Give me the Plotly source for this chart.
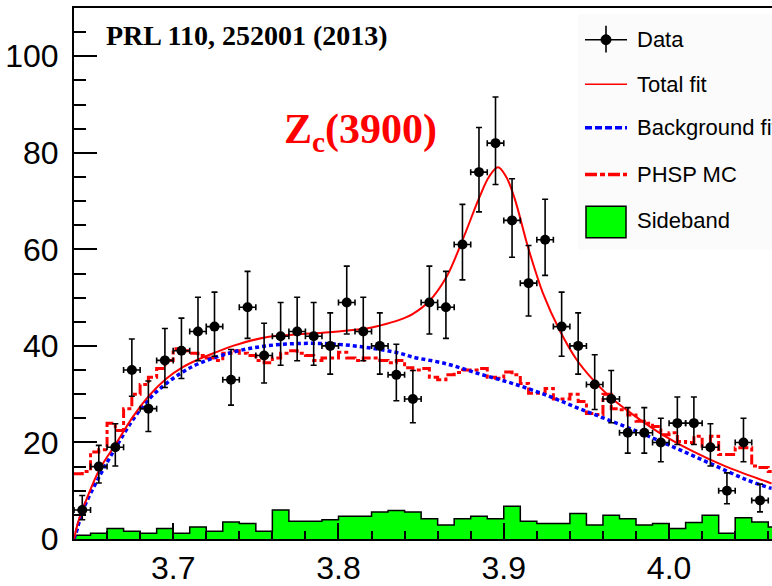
import numpy as np
import plotly.graph_objects as go

# ---- binning -------------------------------------------------------------
x_lo = 3.64            # GeV, first bin edge
data_bw = 0.01         # data / sideband bin width
mc_bw = 0.005          # phase-space MC bin width

# ---- data: events per 10 MeV ---------------------------------------------
counts = [6, 15, 19, 35, 27, 37, 39, 43, 44, 33, 48, 38, 42, 43, 42, 40, 49,
          43, 40, 34, 29, 49, 48, 61, 76, 82, 66, 53, 62, 44, 40, 32, 29, 22,
          22, 20, 24, 24, 19, 10, 20, 8]

# ---- sideband events per 10 MeV ------------------------------------------
sideband = [0.8, 1.2, 2.2, 1.6, 1.2, 2.2, 1.2, 2.5, 1.6, 3.5, 3.2, 1.6, 6.0,
            3.7, 3.7, 4.0, 4.7, 4.7, 5.6, 5.9, 5.6, 4.2, 2.9, 4.2, 4.7, 4.2,
            6.8, 3.7, 3.2, 3.2, 5.3, 2.9, 4.9, 4.2, 2.9, 3.2, 2.2, 3.4, 4.9,
            1.2, 4.4, 3.5, 2.5]

# ---- phase-space MC (normalised), 5 MeV bins -----------------------------
phsp = [13.5, 14, 18, 18.5, 24, 22.5, 27, 30, 32, 33.5, 35.3, 37, 39.4, 39,
        38.5, 38, 37.5, 37, 38.5, 39, 38.5, 38, 37, 36.5, 37.5, 38.5, 39,
        38.5, 38, 37, 37.5, 37.5, 38.7, 37.5, 37, 37.5, 37.5, 37, 36.5, 37,
        35.5, 35, 35.3, 33.5, 33, 34, 34.5, 35, 35, 35.3, 33.5, 33.3, 34.6,
        34, 32.2, 30.2, 30.2, 31.2, 29, 29, 30, 28.5, 26, 25.8, 30, 27, 26.8,
        25.7, 24.4, 24, 23.3, 21.6, 22, 20.2, 20, 21.3, 19.2, 21.3, 17.5,
        17.5, 18.9, 18.9, 15.1, 14.8, 14]

# ---- fit curves ----------------------------------------------------------
fit_x = [3.640, 3.6425, 3.6453, 3.6554, 3.6655, 3.6756, 3.6857, 3.6958,
         3.7058, 3.7159, 3.726, 3.7361, 3.7563, 3.7764, 3.7966, 3.8168,
         3.8248, 3.8369, 3.8448, 3.855, 3.8652, 3.8742, 3.8853, 3.891,
         3.8965, 3.9015, 3.9066, 3.9142, 3.9196, 3.9236, 3.9337, 3.9438,
         3.9539, 3.964, 3.974, 3.9942, 4.0142, 4.0345, 4.0588, 4.062]
fit_y = [0, 3.5, 6.2, 14.4, 19.8, 25.3, 29.8, 33.2, 35.6, 37.3, 38.7, 40.0,
         41.8, 42.4, 42.9, 43.6, 44.2, 45.4, 46.6, 49.3, 54.2, 61.2, 70.8,
         75.0, 77.0, 75.0, 70.5, 61.0, 55.0, 51.0, 43.3, 37.3, 33.0, 29.5,
         26.8, 22.0, 18.2, 15.0, 11.9, 11.5]

bkg_x = [3.640, 3.6413, 3.6454, 3.6554, 3.6655, 3.6756, 3.6857, 3.6958,
         3.7058, 3.7159, 3.7361, 3.7563, 3.7764, 3.7966, 3.8168, 3.8369,
         3.8448, 3.8652, 3.8853, 3.9055, 3.9257, 3.9458, 3.966, 3.9862,
         4.0063, 4.0265, 4.0467, 4.0608, 4.062]
bkg_y = [0, 1.3, 6.0, 13.0, 19.1, 24.7, 29.1, 32.2, 34.6, 36.4, 38.7, 40.0,
         40.5, 40.4, 39.7, 38.5, 37.7, 36.3, 34.2, 32.2, 29.8, 27.0, 24.3,
         21.5, 18.5, 15.4, 12.3, 10.6, 10.5]

# ---- derived arrays ------------------------------------------------------
n = np.array(counts, dtype=float)
centres = x_lo + data_bw * (np.arange(len(counts)) + 0.5)
err_up = np.sqrt(n + 0.25) + 0.5        # Poisson-style asymmetric errors
err_dn = np.sqrt(n + 0.25) - 0.5

sb_edges = x_lo + data_bw * np.arange(len(sideband) + 1)
sb_y = list(sideband) + [sideband[-1]]

mc_edges = x_lo + mc_bw * np.arange(len(phsp) + 1)
mc_y = list(phsp) + [phsp[-1]]

fig = go.Figure()

# sideband (filled step histogram)
fig.add_trace(go.Scatter(
    x=sb_edges, y=sb_y, mode="lines", line_shape="hv",
    line=dict(color="black", width=1.5),
    fill="tozeroy", fillcolor="#00ff00", name="Sideband"))

# phase-space MC (dash-dot step histogram)
fig.add_trace(go.Scatter(
    x=mc_edges, y=mc_y, mode="lines", line_shape="hv",
    line=dict(color="#ff0000", width=3, dash="10px,3px,4px,3px"),
    name="PHSP MC"))

# background fit
fig.add_trace(go.Scatter(
    x=bkg_x, y=bkg_y, mode="lines", line_shape="spline",
    line=dict(color="#0000ff", width=3.5, dash="4px,3px"),
    name="Background fit"))

# total fit
fig.add_trace(go.Scatter(
    x=fit_x, y=fit_y, mode="lines", line_shape="spline",
    line=dict(color="#ff0000", width=2), name="Total fit"))

# data with error bars
fig.add_trace(go.Scatter(
    x=centres, y=counts, mode="markers",
    marker=dict(color="black", size=10),
    error_y=dict(type="data", array=err_up, arrayminus=err_dn,
                 color="black", thickness=1.6, width=3),
    error_x=dict(type="constant", value=data_bw / 2,
                 color="black", thickness=1.6, width=3),
    name="Data"))

# ---- layout ---------------------------------------------------------------
W, H = 772, 586
ML, MR, MT, MB = 74, 0, 8, 42
PW, PH = W - ML - MR, H - MT - MB


def px(x):
    return (x - ML) / PW


def py(y):
    return (H - MB - y) / PH


tick_font = dict(family="Liberation Sans, Arial, sans-serif", size=32,
                 color="black")

fig.update_layout(
    width=W, height=H,
    margin=dict(l=ML, r=MR, t=MT, b=MB, pad=0),
    paper_bgcolor="white", plot_bgcolor="white",
    showlegend=False,
    xaxis=dict(range=[x_lo, x_lo + PW / 1653.0],
               showgrid=False, zeroline=False,
               showline=True, linecolor="black", linewidth=2, mirror=True,
               ticks="inside", ticklen=16, tickwidth=1.5, tickcolor="black",
               tick0=3.7, dtick=0.1, tickformat=".1f", tickfont=tick_font,
               minor=dict(ticks="inside", ticklen=8, tickwidth=1.5,
                          tickcolor="black", tick0=3.64, dtick=0.02)),
    yaxis=dict(range=[0, 110],
               showgrid=False, zeroline=False,
               showline=True, linecolor="black", linewidth=2,
               ticks="inside", ticklen=23, tickwidth=1.5, tickcolor="black",
               tick0=0, dtick=20, tickfont=tick_font, ticklabelstandoff=7,
               minor=dict(ticks="inside", ticklen=12, tickwidth=1.5,
                          tickcolor="black", tick0=0, dtick=5)),
)

# ---- text labels -----------------------------------------------------------
fig.add_annotation(
    xref="paper", yref="paper", x=px(247), y=py(36),
    xanchor="center", yanchor="middle", showarrow=False,
    text="<b>PRL 110, 252001 (2013)</b>",
    font=dict(family="Liberation Serif, Times New Roman, serif", size=28,
              color="black"))

fig.add_annotation(
    xref="paper", yref="paper", x=px(282), y=py(133),
    xanchor="left", yanchor="middle", showarrow=False,
    text="<b>Z<sub>c</sub>(3900)</b>",
    font=dict(family="Liberation Serif, Times New Roman, serif", size=42,
              color="#ff0000"))

# ---- legend ------------------------------------------------------------------
leg_font = dict(family="Liberation Sans, Arial, sans-serif", size=22,
                color="black")
sx0, sx1, tx = 585, 627, 635
rows = [40, 85, 129, 176, 223]
labels = ["Data", "Total fit", "Background fit", "PHSP MC", "Sideband"]

fig.add_shape(type="rect", xref="paper", yref="paper",
              x0=px(578), x1=px(775), y0=py(252), y1=py(14),
              fillcolor="#fbfbfb", line=dict(width=0), layer="below")

for yy, lab in zip(rows, labels):
    fig.add_annotation(xref="paper", yref="paper", x=px(tx), y=py(yy),
                       xanchor="left", yanchor="middle", showarrow=False,
                       text=lab, font=leg_font)

# Data glyph
fig.add_shape(type="line", xref="paper", yref="paper",
              x0=px(sx0), x1=px(sx1), y0=py(rows[0]), y1=py(rows[0]),
              line=dict(color="black", width=1.6))
fig.add_shape(type="line", xref="paper", yref="paper",
              x0=px(606), x1=px(606), y0=py(rows[0] - 14), y1=py(rows[0] + 13),
              line=dict(color="black", width=1.6))
fig.add_shape(type="circle", xref="paper", yref="paper",
              x0=px(601), x1=px(611), y0=py(rows[0] - 5), y1=py(rows[0] + 5),
              fillcolor="black", line=dict(color="black", width=1))
# Total fit glyph
fig.add_shape(type="line", xref="paper", yref="paper",
              x0=px(sx0), x1=px(sx1), y0=py(rows[1]), y1=py(rows[1]),
              line=dict(color="#ff0000", width=1.6))
# Background glyph
fig.add_shape(type="line", xref="paper", yref="paper",
              x0=px(sx0), x1=px(sx1), y0=py(rows[2]), y1=py(rows[2]),
              line=dict(color="#0000ff", width=3.5, dash="7px,3px"))
# PHSP glyph
fig.add_shape(type="line", xref="paper", yref="paper",
              x0=px(sx0), x1=px(sx1), y0=py(rows[3]), y1=py(rows[3]),
              line=dict(color="#ff0000", width=3.5, dash="12px,3px,5px,3px"))
# Sideband glyph
fig.add_shape(type="rect", xref="paper", yref="paper",
              x0=px(586), x1=px(626), y0=py(240), y1=py(208),
              fillcolor="#00ff00", line=dict(color="black", width=1.5))

fig.write_html("out.html")
